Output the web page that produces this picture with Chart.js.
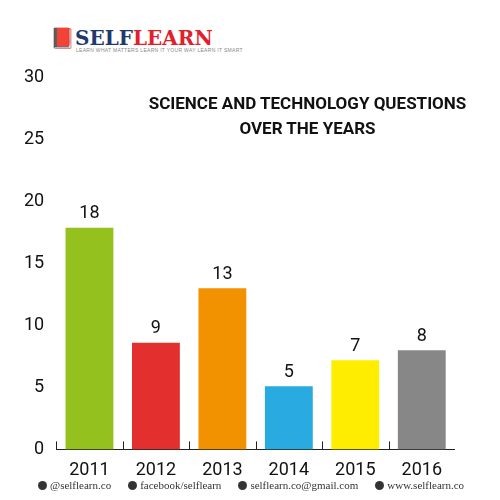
<!DOCTYPE html>
<html><head>
<script src="https://cdn.jsdelivr.net/npm/chart.js@4"></script>
<style>
body{margin:0;width:500px;height:500px;background:#fff;font-family:Roboto,sans-serif;position:relative;overflow:hidden}
#wrap{position:absolute;left:0;top:63px;width:455px;height:420px}
.logo{position:absolute;left:50px;top:26px;font:900 20px "DejaVu Serif",serif;color:#1f3a6b}
.logo span{color:#e2202b}
.logo small{display:block;font:5px sans-serif;color:#888;letter-spacing:0.3px;margin-top:-3px;margin-left:26px}
.title{position:absolute;left:120px;width:375px;top:91px;text-align:center;font:bold 17px Roboto,sans-serif;line-height:25px;color:#111}
.foot{position:absolute;top:479px;left:38px;font:11px "Liberation Serif",serif;color:#333;white-space:nowrap}
.foot span{margin-right:17px}
.foot i{display:inline-block;width:9px;height:9px;border-radius:50%;background:#333;margin-right:3px;vertical-align:-1px}
</style></head><body>
<div class="logo">&#x1F4D5;<span style="color:#1f3a6b">SELF</span><span>LEARN</span><small>LEARN WHAT MATTERS LEARN IT YOUR WAY LEARN IT SMART</small></div>
<div id="wrap"><canvas id="c"></canvas></div>
<div class="title">SCIENCE AND TECHNOLOGY QUESTIONS<br>OVER THE YEARS</div>
<div class="foot"><span><i></i>@selflearn.co</span><span><i></i>facebook/selflearn</span><span><i></i>selflearn.co@gmail.com</span><span><i></i>www.selflearn.co</span></div>
<script>
const years = ['2011','2012','2013','2014','2015','2016'];
const heights = [17.9, 8.6, 13, 5.1, 7.2, 8];
const labels = [18, 9, 13, 5, 7, 8];
const colors = ['#95c11f','#e3302f','#f39200','#29abe2','#ffed00','#878787'];
const yTicks = [0,5,10,15,20,25,30];

const valueLabels = {
  id: 'valueLabels',
  afterDatasetsDraw(chart) {
    const ctx = chart.ctx;
    const meta = chart.getDatasetMeta(0);
    ctx.save();
    ctx.font = '18px Roboto';
    ctx.fillStyle = '#111';
    ctx.textAlign = 'center';
    ctx.textBaseline = 'bottom';
    meta.data.forEach((bar, i) => ctx.fillText(labels[i], bar.x, bar.y - 5));
    // small boundary ticks on x axis
    const x = chart.scales.x, y0 = chart.scales.y.getPixelForValue(0);
    ctx.strokeStyle = '#222'; ctx.lineWidth = 1;
    for (let i = 0; i <= years.length; i++) {
      const px = Math.round(x.left + i * (x.width / years.length)) + 0.5;
      ctx.beginPath(); ctx.moveTo(px, y0); ctx.lineTo(px, y0 - 8); ctx.stroke();
    }
    ctx.restore();
  }
};

new Chart(document.getElementById('c'), {
  type: 'bar',
  data: { labels: years, datasets: [{ data: heights, backgroundColor: colors, barPercentage: 0.72, categoryPercentage: 1 }] },
  options: {
    responsive: true, maintainAspectRatio: false, animation: false,
    layout: { padding: { top: 5, right: 0, left: 20 } },
    plugins: { legend: { display: false }, tooltip: { enabled: false } },
    scales: {
      y: { min: 0, max: 30, afterBuildTicks: s => { s.ticks = yTicks.map(v => ({ value: v })); },
           grid: { display: false }, border: { display: false },
           ticks: { color: '#111', font: { size: 18, family: 'Roboto' }, padding: 4 } },
      x: { grid: { display: false }, border: { display: true, color: '#222' },
           ticks: { color: '#111', font: { size: 18, family: 'Roboto' }, padding: 2 } }
    }
  },
  plugins: [valueLabels]
});
</script>
</body></html>
